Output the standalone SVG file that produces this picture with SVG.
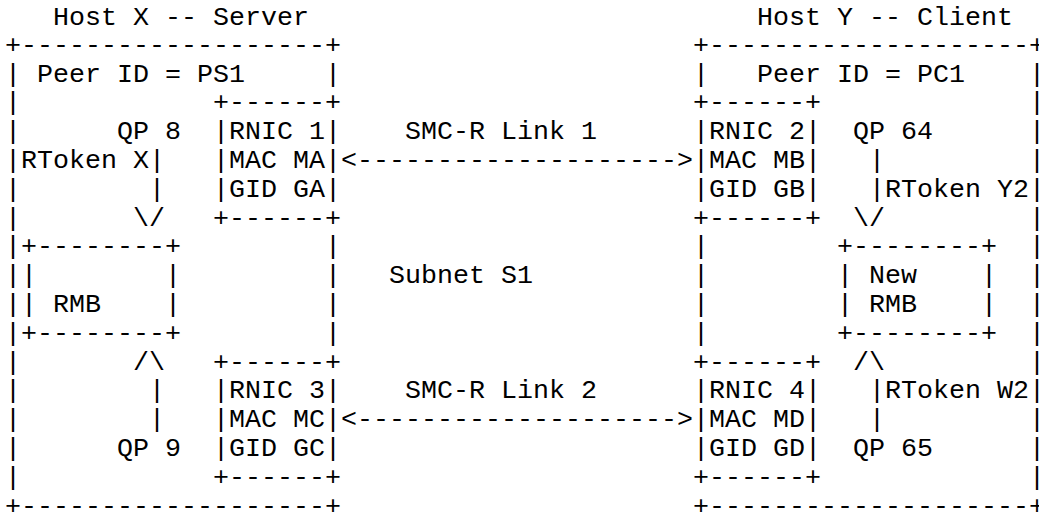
<svg xmlns="http://www.w3.org/2000/svg" width="1039" height="522" viewBox="0 0 1039 522">
<style>
text { font-family: "Liberation Mono", "Courier New", monospace; font-size: 26.667px; fill: #000; white-space: pre; }
</style>
<rect width="1039" height="522" fill="#fff"/>
<g id="host-x" xml:space="preserve">
<text x="53" y="25">Host X -- Server</text>
<text x="5" y="52.8">+-------------------+</text>
<text x="5" y="81.6">| Peer ID = PS1     |</text>
<text x="5" y="110.4">|</text>
<text x="5" y="139.2">|      QP 8</text>
<text x="5" y="168">|</text>
<text x="5" y="196.8">|</text>
<text x="5" y="225.6">|</text>
<text x="5" y="254.4">|</text>
<text x="325" y="254.4">|</text>
<text x="5" y="283.2">|</text>
<text x="325" y="283.2">|</text>
<text x="5" y="312">|</text>
<text x="325" y="312">|</text>
<text x="5" y="340.8">|</text>
<text x="325" y="340.8">|</text>
<text x="5" y="369.6">|</text>
<text x="5" y="398.4">|</text>
<text x="5" y="427.2">|</text>
<text x="5" y="456">|      QP 9</text>
<text x="5" y="484.8">|</text>
<text x="5" y="513.6">+-------------------+</text>
</g>
<g id="rnic-1" xml:space="preserve">
<text x="213" y="110.4">+------+</text>
<text x="213" y="139.2">|RNIC 1|</text>
<text x="213" y="168">|MAC MA|</text>
<text x="213" y="196.8">|GID GA|</text>
<text x="213" y="225.6">+------+</text>
</g>
<g id="rnic-3" xml:space="preserve">
<text x="213" y="369.6">+------+</text>
<text x="213" y="398.4">|RNIC 3|</text>
<text x="213" y="427.2">|MAC MC|</text>
<text x="213" y="456">|GID GC|</text>
<text x="213" y="484.8">+------+</text>
</g>
<g id="rmb" xml:space="preserve">
<text x="21" y="254.4">+--------+</text>
<text x="21" y="283.2">|        |</text>
<text x="21" y="312">| RMB    |</text>
<text x="21" y="340.8">+--------+</text>
</g>
<g id="host-y" xml:space="preserve">
<text x="757" y="25">Host Y -- Client</text>
<text x="693" y="52.8">+--------------------+</text>
<text x="693" y="81.6">|   Peer ID = PC1    |</text>
<text x="1029" y="110.4">|</text>
<text x="853" y="139.2">QP 64</text>
<text x="1029" y="139.2">|</text>
<text x="1029" y="168">|</text>
<text x="1029" y="196.8">|</text>
<text x="1029" y="225.6">|</text>
<text x="693" y="254.4">|</text>
<text x="1029" y="254.4">|</text>
<text x="693" y="283.2">|</text>
<text x="1029" y="283.2">|</text>
<text x="693" y="312">|</text>
<text x="1029" y="312">|</text>
<text x="693" y="340.8">|</text>
<text x="1029" y="340.8">|</text>
<text x="1029" y="369.6">|</text>
<text x="1029" y="398.4">|</text>
<text x="1029" y="427.2">|</text>
<text x="853" y="456">QP 65</text>
<text x="1029" y="456">|</text>
<text x="1029" y="484.8">|</text>
<text x="693" y="513.6">+--------------------+</text>
</g>
<g id="rnic-2" xml:space="preserve">
<text x="693" y="110.4">+------+</text>
<text x="693" y="139.2">|RNIC 2|</text>
<text x="693" y="168">|MAC MB|</text>
<text x="693" y="196.8">|GID GB|</text>
<text x="693" y="225.6">+------+</text>
</g>
<g id="rnic-4" xml:space="preserve">
<text x="693" y="369.6">+------+</text>
<text x="693" y="398.4">|RNIC 4|</text>
<text x="693" y="427.2">|MAC MD|</text>
<text x="693" y="456">|GID GD|</text>
<text x="693" y="484.8">+------+</text>
</g>
<g id="new-rmb" xml:space="preserve">
<text x="837" y="254.4">+--------+</text>
<text x="837" y="283.2">| New    |</text>
<text x="837" y="312">| RMB    |</text>
<text x="837" y="340.8">+--------+</text>
</g>
<g id="subnet" xml:space="preserve">
<text x="389" y="283.2">Subnet S1</text>
</g>
<g id="connectors" xml:space="preserve">
<text x="405" y="139.2">SMC-R Link 1</text>
<text x="341" y="168">&lt;--------------------&gt;</text>
<text x="405" y="398.4">SMC-R Link 2</text>
<text x="341" y="427.2">&lt;--------------------&gt;</text>
<text x="21" y="168">RToken X|</text>
<text x="149" y="196.8">|</text>
<text x="133" y="225.6">\/</text>
<text x="133" y="369.6">/\</text>
<text x="149" y="398.4">|</text>
<text x="149" y="427.2">|</text>
<text x="869" y="168">|</text>
<text x="869" y="196.8">|RToken Y2</text>
<text x="853" y="225.6">\/</text>
<text x="853" y="369.6">/\</text>
<text x="869" y="398.4">|RToken W2</text>
<text x="869" y="427.2">|</text>
</g>
</svg>
